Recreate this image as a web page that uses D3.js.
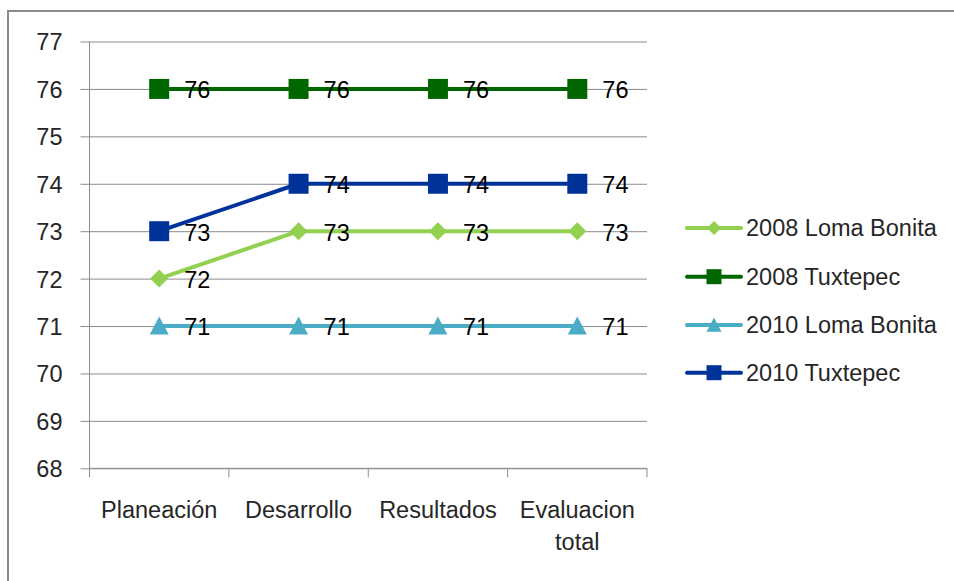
<!DOCTYPE html>
<html>
<head>
<meta charset="utf-8">
<script src="https://cdn.jsdelivr.net/npm/d3@7"></script>
<style>
html,body{margin:0;padding:0;background:#fff;}
svg{display:block;}
text{font-family:"Liberation Sans",Arial,sans-serif;}
</style>
</head>
<body>
<svg id="chart" width="954" height="581"></svg>
<script>
const categories = ["Planeación", "Desarrollo", "Resultados", "Evaluacion total"];
const seriesNames = ["2008 Loma Bonita", "2008 Tuxtepec", "2010 Loma Bonita", "2010 Tuxtepec"];
const loma2008 = [72, 73, 73, 73];
const tux2008 = [76, 76, 76, 76];
const loma2010 = [71, 71, 71, 71];
const tux2010 = [73, 74, 74, 74];
const yTicks = [68, 69, 70, 71, 72, 73, 74, 75, 76, 77];
const seriesColors = ["#92D050", "#006600", "#4BACC6", "#003399"];
const seriesMarkers = ["diamond", "square", "triangle", "square"];

const series = [loma2008, tux2008, loma2010, tux2010].map((v, i) => ({
  name: seriesNames[i], values: v, color: seriesColors[i], marker: seriesMarkers[i]
}));

const FS = 23.5;
const svg = d3.select("#chart");
const W = 954, H = 581;
const plot = {left: 89.5, right: 647, top: 41.5, bottom: 468.3};

// frame
svg.append("rect").attr("x", 8).attr("y", 11).attr("width", W + 10).attr("height", H + 10)
  .attr("fill", "#fff").attr("stroke", "#8a8a8a").attr("stroke-width", 2);

const x = d3.scaleBand().domain(categories).range([plot.left, plot.right]).padding(0);
const y = d3.scaleLinear().domain([68, 77]).range([plot.bottom, plot.top]);
const cx = c => x(c) + x.bandwidth() / 2;

// grid + y axis
const yAxis = d3.axisLeft(y).tickValues(yTicks).tickSize(-(plot.right - plot.left)).tickPadding(0).tickFormat(d3.format("d"));
const gy = svg.append("g").attr("transform", `translate(${plot.left},0)`).call(yAxis);
gy.select(".domain").remove();
gy.selectAll(".tick line").attr("stroke", "#8c8c8c").attr("stroke-width", 1)
  .attr("x1", -9).attr("x2", plot.right - plot.left);
gy.selectAll(".tick text").attr("x", -27).attr("dy", "0.36em")
  .attr("font-size", FS).attr("fill", "#262626").attr("text-anchor", "end");

svg.append("line").attr("x1", plot.left).attr("x2", plot.left)
  .attr("y1", plot.top).attr("y2", plot.bottom).attr("stroke", "#8c8c8c");

// x axis
const xAxis = d3.axisBottom(x).tickSize(0).tickFormat("");
const gx = svg.append("g").attr("transform", `translate(0,${plot.bottom})`).call(xAxis);
gx.select(".domain").attr("stroke", "#8c8c8c").attr("d", `M${plot.left},0H${plot.right}`);
gx.selectAll(".tick").remove();
const bounds = categories.map(c => x(c)).concat([plot.right]);
gx.selectAll("line.bt").data(bounds).enter().append("line")
  .attr("x1", d => d).attr("x2", d => d).attr("y1", 0).attr("y2", 9)
  .attr("stroke", "#8c8c8c");

categories.forEach(c => {
  const words = c === "Evaluacion total" ? ["Evaluacion", "total"] : [c];
  const t = svg.append("text").attr("x", cx(c)).attr("y", 518)
    .attr("text-anchor", "middle").attr("font-size", FS).attr("fill", "#262626");
  words.forEach((w, i) => t.append("tspan").attr("x", cx(c)).attr("dy", i === 0 ? 0 : 32).text(w));
});

// markers
function drawMarker(g, type, px, py, s, color) {
  if (type === "square") {
    g.append("rect").attr("x", px - s / 2).attr("y", py - s / 2).attr("width", s).attr("height", s).attr("fill", color);
  } else if (type === "diamond") {
    const r = s / 2;
    g.append("path").attr("d", `M${px},${py - r}L${px + r},${py}L${px},${py + r}L${px - r},${py}Z`).attr("fill", color);
  } else {
    const r = s / 2;
    g.append("path").attr("d", `M${px},${py - r}L${px + r},${py + r * 0.9}L${px - r},${py + r * 0.9}Z`).attr("fill", color);
  }
}
const markerSize = {square: 20, diamond: 18, triangle: 19};

const line = d3.line().x((d, i) => cx(categories[i])).y(d => y(d));
series.forEach(s => {
  const g = svg.append("g");
  g.append("path").datum(s.values).attr("d", line).attr("fill", "none")
    .attr("stroke", s.color).attr("stroke-width", 4).attr("stroke-linejoin", "round");
  s.values.forEach((v, i) => drawMarker(g, s.marker, cx(categories[i]), y(v), markerSize[s.marker], s.color));
});
series.forEach(s => {
  s.values.forEach((v, i) => {
    svg.append("text").attr("x", cx(categories[i]) + 25).attr("y", y(v) + 1)
      .attr("dy", "0.36em").attr("font-size", FS).attr("fill", "#000").text(v);
  });
});

// legend
const legendY = [228, 276.7, 325, 372.7];
series.forEach((s, i) => {
  const g = svg.append("g");
  g.append("line").attr("x1", 687).attr("x2", 741).attr("y1", legendY[i]).attr("y2", legendY[i])
    .attr("stroke", s.color).attr("stroke-width", 4).attr("stroke-linecap", "round");
  const ls = {square: 15, diamond: 14, triangle: 15}[s.marker];
  drawMarker(g, s.marker, 714, legendY[i], ls, s.color);
  g.append("text").attr("x", 746).attr("y", legendY[i]).attr("dy", "0.36em")
    .attr("font-size", FS).attr("fill", "#262626").text(s.name);
});
</script>
</body>
</html>
